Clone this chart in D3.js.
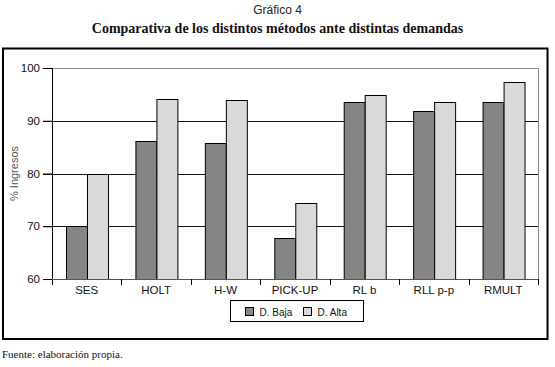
<!DOCTYPE html>
<html>
<head>
<meta charset="utf-8">
<script src="https://cdn.jsdelivr.net/npm/d3@7/dist/d3.min.js"></script>
<style>
  html, body { margin: 0; padding: 0; background: #fff; }
  svg { display: block; }
</style>
</head>
<body>
<svg id="chart" width="555" height="367"></svg>
<script>
// data
const categories = ["SES", "HOLT", "H-W", "PICK-UP", "RL b", "RLL p-p", "RMULT"];
const seriesNames = ["D. Baja", "D. Alta"];
const baja = [70.0, 86.2, 85.7, 67.7, 93.5, 91.8, 93.5];
const alta = [79.9, 94.1, 93.9, 74.4, 94.8, 93.5, 97.3];
const yTicks = [60, 70, 80, 90, 100];
const colors = ["#858585", "#d9d9d9"];

const SANS = "'Liberation Sans', Arial, sans-serif";
const SERIF = "'Liberation Serif', 'Times New Roman', serif";

const svg = d3.select("#chart");
const W = 555, H = 367;
const margin = { top: 68, right: 17, bottom: 88, left: 52 };
const plotW = W - margin.left - margin.right;
const plotH = H - margin.top - margin.bottom;

// titles
svg.append("text")
  .attr("x", W / 2).attr("y", 14)
  .attr("text-anchor", "middle")
  .style("font-family", SANS)
  .attr("font-size", 12)
  .attr("fill", "#222")
  .text("Gráfico 4");

svg.append("text")
  .attr("x", W / 2).attr("y", 33)
  .attr("text-anchor", "middle")
  .style("font-family", SERIF)
  .attr("font-weight", "bold")
  .attr("font-size", 14)
  .attr("fill", "#111")
  .text("Comparativa de los distintos métodos ante distintas demandas");

// outer frame
svg.append("rect")
  .attr("x", 3).attr("y", 48.5)
  .attr("width", 544.5).attr("height", 290.5)
  .attr("fill", "none")
  .attr("stroke", "#000")
  .attr("stroke-width", 2);

const g = svg.append("g").attr("transform", `translate(${margin.left},${margin.top})`);

const x0 = d3.scaleBand().domain(categories).range([0, plotW]).paddingInner(0).paddingOuter(0);
const groupPad = 0.198;
const x1 = d3.scaleBand().domain(seriesNames)
  .range([x0.bandwidth() * groupPad, x0.bandwidth() * (1 - groupPad)]);
const y = d3.scaleLinear().domain([60, 100]).range([plotH, 0]);

// gridlines (70, 80, 90 black; 100 is the gray plot border)
g.append("g")
  .selectAll("line")
  .data(yTicks.filter(t => t > 60 && t < 100))
  .enter().append("line")
  .attr("x1", -9).attr("x2", plotW + 1)
  .attr("y1", d => Math.round(y(d)) + 0.5)
  .attr("y2", d => Math.round(y(d)) + 0.5)
  .attr("stroke", "#111");

g.append("line")
  .attr("x1", -9).attr("x2", plotW)
  .attr("y1", y(100) + 0.5).attr("y2", y(100) + 0.5)
  .attr("stroke", "#8a8a8a");
g.append("line")
  .attr("x1", plotW + 0.5).attr("x2", plotW + 0.5)
  .attr("y1", y(100)).attr("y2", plotH)
  .attr("stroke", "#8a8a8a");

// bars
const rows = categories.map((c, i) => ({ cat: c, vals: [baja[i], alta[i]] }));
g.append("g")
  .selectAll("g")
  .data(rows)
  .enter().append("g")
  .attr("transform", d => `translate(${x0(d.cat)},0)`)
  .selectAll("rect")
  .data(d => d.vals.map((v, k) => ({ name: seriesNames[k], v, k })))
  .enter().append("rect")
  .attr("x", d => Math.round(x1(d.name)) + 0.5)
  .attr("y", d => Math.round(y(d.v)) + 0.5)
  .attr("width", x1.bandwidth())
  .attr("height", d => plotH - Math.round(y(d.v)))
  .attr("fill", d => colors[d.k])
  .attr("stroke", "#000")
  .attr("stroke-width", 1);

// y axis
const yAxis = g.append("g")
  .call(d3.axisLeft(y).tickValues(yTicks).tickSize(9).tickPadding(3));
yAxis.select(".domain").remove();
yAxis.append("line")
  .attr("x1", 0.5).attr("x2", 0.5)
  .attr("y1", 0).attr("y2", plotH + 6)
  .attr("stroke", "#000");
yAxis.selectAll(".tick line").attr("stroke", "#000");
yAxis.selectAll(".tick text")
  .style("font-family", SANS)
  .attr("font-size", 11.5)
  .attr("fill", "#111");

// x axis: ticks between categories
const xAxis = g.append("g").attr("transform", `translate(0,${plotH})`);
xAxis.append("line")
  .attr("x1", 0).attr("x2", plotW + 1)
  .attr("y1", 0.5).attr("y2", 0.5)
  .attr("stroke", "#555");
xAxis.selectAll("line.sep")
  .data(categories.slice(1).concat(["__end"]))
  .enter().append("line")
  .attr("class", "sep")
  .attr("x1", (d, i) => Math.round(x0.step() * (i + 1)) + 0.5)
  .attr("x2", (d, i) => Math.round(x0.step() * (i + 1)) + 0.5)
  .attr("y1", 0).attr("y2", 6)
  .attr("stroke", "#000");
xAxis.selectAll("text")
  .data(categories)
  .enter().append("text")
  .attr("x", d => x0(d) + x0.bandwidth() / 2)
  .attr("y", 15)
  .attr("text-anchor", "middle")
  .style("font-family", SANS)
  .attr("font-size", 11.5)
  .attr("fill", "#111")
  .text(d => d);

// y label
svg.append("text")
  .attr("transform", `translate(18,${margin.top + plotH / 2}) rotate(-90)`)
  .attr("text-anchor", "middle")
  .style("font-family", SANS)
  .attr("font-size", 11)
  .attr("fill", "#555")
  .text("% Ingresos");

// legend
const lg = svg.append("g").attr("transform", "translate(230.5,300.5)");
lg.append("rect")
  .attr("width", 133).attr("height", 21)
  .attr("fill", "#fff").attr("stroke", "#000");
const items = lg.selectAll("g.item")
  .data(seriesNames)
  .enter().append("g")
  .attr("transform", (d, i) => `translate(${i === 0 ? 15 : 73},7)`);
items.append("rect")
  .attr("width", 8).attr("height", 8)
  .attr("fill", (d, i) => colors[i])
  .attr("stroke", "#000");
items.append("text")
  .attr("x", 14).attr("y", 8)
  .style("font-family", SANS)
  .attr("font-size", 10)
  .attr("fill", "#111")
  .text(d => d);

// source
svg.append("text")
  .attr("x", 2).attr("y", 358)
  .style("font-family", SERIF)
  .attr("font-size", 11)
  .attr("fill", "#111")
  .text("Fuente: elaboración propia.");
</script>
</body>
</html>
